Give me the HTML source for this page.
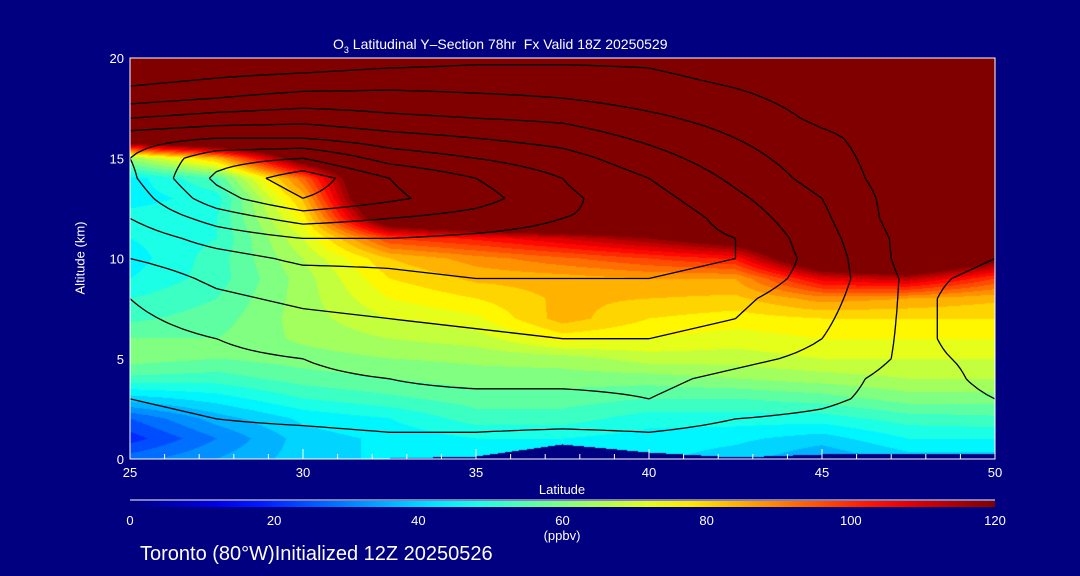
<!DOCTYPE html>
<html><head><meta charset="utf-8">
<style>
html,body{margin:0;padding:0;background:#000080;}
#wrap{position:relative;width:1080px;height:576px;background:#000080;overflow:hidden;font-family:"Liberation Sans",sans-serif;color:#fff;}
.t{position:absolute;color:#fff;white-space:nowrap;font-size:13px;line-height:1;}
</style></head><body>
<div id="wrap">
<canvas id="field" width="865" height="401" style="position:absolute;left:130px;top:58px;"></canvas>
<svg id="ov" width="1080" height="576" style="position:absolute;left:0;top:0;"></svg>
<div class="t" style="left:333px;top:37px;font-size:14px;">O<sub style="font-size:9px">3</sub> Latitudinal Y–Section 78hr&nbsp; Fx Valid 18Z 20250529</div>
<div class="t" style="left:80px;top:258px;transform:translate(-50%,-50%) rotate(-90deg);">Altitude (km)</div>
<div class="t" style="left:562px;top:483px;transform:translateX(-50%);">Latitude</div>
<div class="t" style="left:562px;top:529px;transform:translateX(-50%);">(ppbv)</div>
<div class="t" style="left:140px;top:544px;font-size:20px;">Toronto (80°W)Initialized 12Z 20250526</div>
</div>
<script>
const lats=[25,27.5,30,32.5,35,37.5,40,42.5,45,47.5,50];
const o3=[
[30,22,28,42,55,62,60,55,52,48,46,48,50,46,46,65,140,150,150,150,150],
[36,32,38,46,54,60,60,58,56,54,54,52,52,50,56,85,150,150,150,150,150],
[42,42,45,52,58,62,65,66,66,66,68,72,78,85,95,130,150,150,150,150,150],
[45,45,48,55,60,64,68,72,76,80,84,100,135,150,150,150,150,150,150,150,150],
[45,48,54,58,62,65,70,75,80,85,90,105,150,150,150,150,150,150,150,150,150],
[48,48,54,58,62,66,78,86,85,86,95,112,150,150,150,150,150,150,150,150,150],
[45,46,50,56,62,70,76,80,84,88,100,120,150,150,150,150,150,150,150,150,150],
[42,45,50,56,64,70,74,78,83,88,105,130,150,150,150,150,150,150,150,150,150],
[36,42,50,58,66,72,76,80,90,110,140,150,150,150,150,150,150,150,150,150,150],
[42,48,54,62,68,72,76,80,88,115,150,150,150,150,150,150,150,150,150,150,150],
[42,48,55,62,68,72,76,80,85,100,125,150,150,150,150,150,150,150,150,150,150]];
const wind=[
[0,2,4,5,6,7,8,9,10,12,15,17,20,22,24,25,23,15,8,3,0],
[0,3,5,6,8,9,10,12,14,16,18,22,27,33,36,33,25,17,10,5,2],
[0,3,6,8,9,10,12,14,16,18,21,25,32,40,43,35,25,18,12,6,2],
[0,4,7,9,10,12,13,15,17,19,21,25,30,36,35,28,22,16,12,7,3],
[0,4,7,9,11,12,14,16,18,20,22,24,28,32,30,25,20,15,11,7,4],
[0,3,7,9,11,13,15,17,19,20,22,23,25,26,25,22,18,14,10,7,4],
[0,4,7,10,11,13,15,17,18,20,22,23,24,22,20,17,14,11,8,6,4],
[0,3,5,8,9,11,13,15,16,18,20,20,18,16,14,12,10,8,6,4,2],
[0,2,4,6,7,9,10,11,12,13,13,12,11,10,8,7,6,4,3,2,1],
[0,1,2,3,3,4,4,4,4,4,3,3,2,2,2,2,2,2,1,1,1],
[0,3,4,5,6,6,7,7,7,6,5,5,5,4,3,3,3,2,2,1,0]];
const terrain=[0,0,0,0,0.1,0.7,0.3,0.05,0.2,0.2,0.2];
const contourLevels=[5,10,15,20,25,30,35,40];
const xTicks=[25,30,35,40,45,50];
const yTicks=[0,5,10,15,20];
const cbTicks=[0,20,40,60,80,100,120];

const X0=130,X1=995,Y0=459,Y1=58;
const xs=v=>X0+(v-25)/25*(X1-X0);
const ys=v=>Y0-(v/20)*(Y0-Y1);
function jet(t){t=Math.max(0,Math.min(1,t));
 const f=(a)=>Math.max(0,Math.min(1,1.5-Math.abs(4*t-a)));
 return [f(3)*255,f(2)*255,f(1)*255];}
function interp(g,la,al){
 let fi=(la-25)/2.5,fj=al;fi=Math.max(0,Math.min(10,fi));fj=Math.max(0,Math.min(20,fj));
 const i=Math.min(9,Math.floor(fi)),j=Math.min(19,Math.floor(fj)),a=fi-i,b=fj-j;
 return g[i][j]*(1-a)*(1-b)+g[i+1][j]*a*(1-b)+g[i][j+1]*(1-a)*b+g[i+1][j+1]*a*b;}
function terr(la){let fi=(la-25)/2.5;const i=Math.min(9,Math.floor(fi)),a=fi-i;return terrain[i]*(1-a)+terrain[i+1]*a;}
const cv=document.getElementById('field'),ctx=cv.getContext('2d');
const W=cv.width,H=cv.height,img=ctx.createImageData(W,H);
for(let py=0;py<H;py++){for(let px=0;px<W;px++){
 const la=25+px/(W-1)*25,al=20-py/(H-1)*20;
 let v=interp(o3,la,al);let c;
 if(al<terr(la))c=[0,0,128];else{v=Math.floor(v/4)*4;c=jet(v/120);}
 const k=(py*W+px)*4;img.data[k]=c[0];img.data[k+1]=c[1];img.data[k+2]=c[2];img.data[k+3]=255;}}
ctx.putImageData(img,0,0);
const NS='http://www.w3.org/2000/svg',ov=document.getElementById('ov');
function mk(tag,at){const e=document.createElementNS(NS,tag);for(const k in at)e.setAttribute(k,at[k]);ov.appendChild(e);return e;}
const nx=100,ny=80;
function wv(i,j){return interp(wind,25+i/nx*25,j/ny*20);}
contourLevels.forEach(L=>{
 let d='';
 for(let i=0;i<nx;i++)for(let j=0;j<ny;j++){
  const p=[[i,j],[i+1,j],[i+1,j+1],[i,j+1]],v=p.map(q=>wv(q[0],q[1]));
  const pts=[];
  for(let e=0;e<4;e++){const a=v[e],b=v[(e+1)%4];
   if((a<L)!==(b<L)){const t=(L-a)/(b-a),q0=p[e],q1=p[(e+1)%4];
    pts.push([q0[0]+(q1[0]-q0[0])*t,q0[1]+(q1[1]-q0[1])*t]);}}
  for(let k=0;k+1<pts.length;k+=2){
   const A=pts[k],B=pts[k+1];
   d+='M'+xs(25+A[0]/nx*25).toFixed(1)+' '+ys(A[1]/ny*20).toFixed(1)+'L'+xs(25+B[0]/nx*25).toFixed(1)+' '+ys(B[1]/ny*20).toFixed(1);}
 }
 const el=mk('path',{d:d,stroke:'#000',fill:'none','stroke-width':1.3});
 
 
});
const fr=mk('rect',{x:X0,y:Y1,width:X1-X0,height:Y0-Y1,fill:'none',stroke:'#fff','stroke-width':1});


for(let l=25;l<=50;l++){const maj=l%5===0;
 const tk=mk('line',{x1:xs(l),x2:xs(l),y1:Y0,y2:Y0-(maj?10:5),stroke:'#fff'});
 
 }
xTicks.forEach(v=>{const t=mk('text',{x:xs(v),y:477,fill:'#fff','font-size':13,'text-anchor':'middle','font-family':'Liberation Sans'});t.textContent=v;
 
 });
yTicks.forEach(v=>{const t=mk('text',{x:124,y:ys(v)+5,fill:'#fff','font-size':13,'text-anchor':'end','font-family':'Liberation Sans'});t.textContent=v;
 
 });
const defs=mk('defs',{});const lg=document.createElementNS(NS,'linearGradient');lg.setAttribute('id','jg');defs.appendChild(lg);
for(let s=0;s<=20;s++){const c=jet(s/20),st=document.createElementNS(NS,'stop');st.setAttribute('offset',(s*5)+'%');st.setAttribute('stop-color','rgb('+c.map(Math.round).join(',')+')');lg.appendChild(st);}
const cbl=mk('line',{x1:130,x2:995,y1:500,y2:500,stroke:'#fff'});


const cb=mk('rect',{x:130,y:501,width:865,height:6,fill:'url(#jg)'});


cbTicks.forEach(v=>{const t=mk('text',{x:130+v/120*865,y:525,fill:'#fff','font-size':13,'text-anchor':'middle','font-family':'Liberation Sans'});t.textContent=v;
 
 });
</script>
</body></html>
